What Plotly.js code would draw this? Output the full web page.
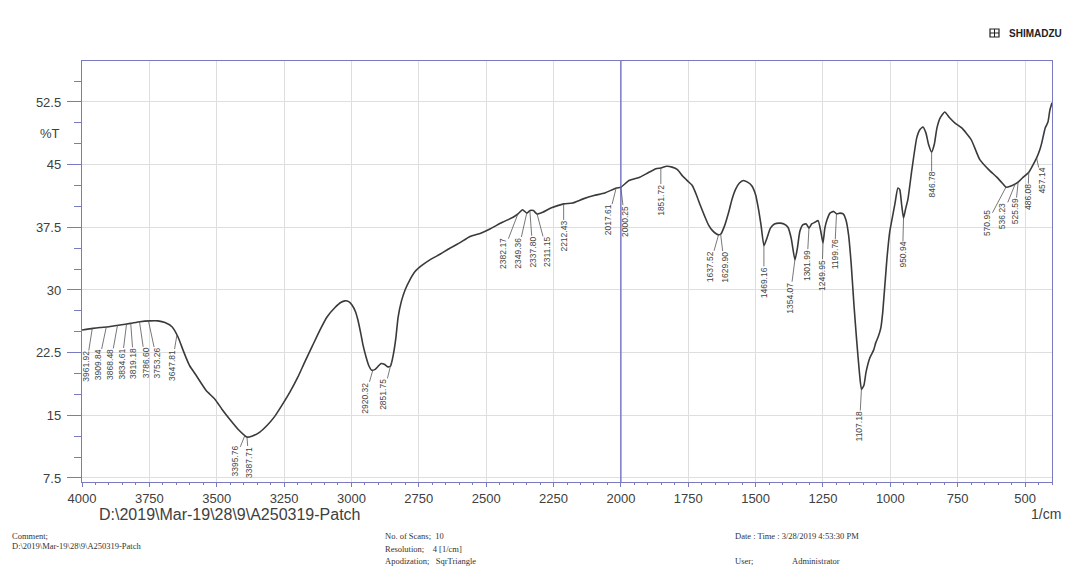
<!DOCTYPE html>
<html>
<head>
<meta charset="utf-8">
<script src="https://cdn.plot.ly/plotly-3.0.1.min.js"></script>
<style>html,body{margin:0;padding:0;background:#fff;}#chart{width:1067px;height:588px;}</style>
</head>
<body>
<div id="chart"></div>
<script>
// ---- Data ----
const wavenumber = [4000,3960,3933,3900,3859,3820,3785,3748,3718,3692,3666,3644,3625,3610,3600,3581,3540,3506,3480,3451,3420,3395,3388,3370,3340,3310,3284,3256,3228,3200,3173,3145,3117,3090,3061,3040,3024,3010,2998,2985,2976,2966,2957,2945,2935,2925,2912,2900,2890,2878,2865,2855,2845,2835,2827,2815,2801,2785,2764,2740,2709,2670,2635,2600,2560,2520,2486,2440,2400,2382,2365,2349,2337,2325,2311,2290,2260,2212,2180,2140,2100,2060,2017,2000,1970,1930,1900,1870,1851,1830,1810,1790,1770,1751,1735,1720,1705,1690,1675,1660,1645,1637,1629,1615,1600,1588,1575,1560,1545,1530,1515,1500,1490,1480,1469,1458,1445,1430,1410,1395,1380,1368,1354,1345,1336,1325,1312,1302,1292,1280,1268,1258,1250,1243,1235,1224,1210,1199,1187,1175,1165,1155,1145,1135,1125,1115,1107,1098,1090,1076,1062,1054,1045,1035,1028,1013,1002,990,983,972,965,958,951,944,935,920,902,890,879,868,858,847,837,827,815,798,780,761,735,700,668,635,605,585,571,555,536,526,510,486,475,457,445,438,425,415,408,400];
const transmittance = [25.2,25.4,25.5,25.6,25.8,26.0,26.2,26.3,26.3,26.1,25.6,24.4,22.8,21.6,20.9,20.0,18.0,16.9,15.7,14.5,13.3,12.55,12.4,12.5,13.0,13.9,14.9,16.3,17.8,19.5,21.4,23.3,25.2,26.8,27.9,28.5,28.7,28.6,28.2,27.4,26.4,24.9,23.4,21.9,20.9,20.4,20.5,20.9,21.2,21.1,20.8,20.9,22.2,24.3,26.7,28.6,30.0,31.1,32.2,32.9,33.6,34.3,35.0,35.6,36.4,36.8,37.3,38.1,38.7,39.1,39.6,39.2,39.5,39.5,39.1,39.3,39.8,40.3,40.4,40.9,41.3,41.6,42.2,42.3,43.1,43.5,44.0,44.5,44.6,44.8,44.7,44.4,43.6,43.0,42.5,41.4,40.1,38.9,37.8,37.1,36.7,36.6,36.7,37.7,39.3,40.8,42.0,42.8,43.1,42.9,42.5,41.4,39.8,37.8,35.3,36.2,37.4,37.9,38.0,37.9,37.5,36.2,33.6,35.0,37.0,37.8,37.9,37.4,37.9,38.1,38.3,37.0,35.6,37.4,38.4,39.2,39.4,39.1,39.2,39.1,38.4,36.6,33.0,28.2,24.0,20.2,18.1,18.6,20.2,21.9,22.8,23.7,24.4,25.5,27.4,33.6,37.0,39.1,40.3,42.2,42.0,40.2,38.6,39.6,40.8,44.4,48.2,49.2,49.5,48.8,47.4,46.5,47.4,49.4,50.6,51.3,50.6,50.0,49.4,48.0,45.6,44.4,43.5,42.8,42.3,42.4,42.7,42.9,43.4,44.1,44.7,45.8,46.8,47.6,49.4,50.1,51.5,52.4];

const peakWavenumbers = [3961.92,3909.84,3868.48,3834.61,3819.18,3786.60,3753.26,3647.81,3395.76,3387.71,2920.32,2851.75,2382.17,2349.36,2337.80,2311.15,2212.43,2017.61,2000.25,1851.72,1637.52,1629.90,1469.16,1354.07,1301.99,1249.95,1199.76,1107.18,950.94,846.78,570.95,536.23,525.59,486.08,457.14];
const peakLabels = peakWavenumbers.map(v => v.toFixed(2));

const xTickValues = [4000,3750,3500,3250,3000,2750,2500,2250,2000,1750,1500,1250,1000,750,500];
const yTickValues = [7.5,15,22.5,30,37.5,45,52.5];

// ---- Layout helpers (label offsets in pixels, style only) ----
const labelOffsets = [
  [-6,38],[-8,38],[-7,39],[-5,40],[3,40],[6,41],[9,42],[-5,30],
  [-10,25],[2,25],
  [-8,28],[-8,32],
  [-15,39],[-9,40],[3,41],[10,38],[0,32],
  [-8,32],[4,34],
  [0,32],
  [-9,32],[4,33],
  [0,37],[-5,38],[-2,37],[-1,32],[-2,41],
  [-2,37],[-1,37],[0,33],
  [-19,36],[-13,32],[-3,29],[-1,25],[5,23]
];

function interpT(w){
  for(let i=0;i<wavenumber.length-1;i++){
    const a=wavenumber[i], b=wavenumber[i+1];
    if((w<=a && w>=b)){
      const t=(a-w)/(a-b);
      return transmittance[i]+t*(transmittance[i+1]-transmittance[i]);
    }
  }
  return transmittance[transmittance.length-1];
}

const L=82, R=15, Tm=61, B=106, W=1067, H=588;
const pw=W-L-R, ph=H-Tm-B;
const px = xp => (xp-L)/pw;
const py = yp => (Tm+ph-yp)/ph;

const annotations = [];
peakWavenumbers.forEach((w,i)=>{
  annotations.push({
    x:w, y:interpT(w), xref:'x', yref:'y',
    text:peakLabels[i], textangle:-90,
    showarrow:true, arrowhead:0, arrowwidth:0.8, arrowcolor:'#555',
    ax:labelOffsets[i][0], ay:labelOffsets[i][1], standoff:0,
    font:{family:'Liberation Sans, Arial', size:8.5, color:'#444'},
    borderpad:0
  });
});

const serif = {family:'Liberation Serif, Times New Roman', size:8.5, color:'#333'};
const footer = [
  ['Comment;',10,536],
  ['D:\\2019\\Mar-19\\28\\9\\A250319-Patch',10,546],
  ['No. of Scans;  10',383,536],
  ['Resolution;    4 [1/cm]',383,549],
  ['Apodization;   SqrTriangle',383,561],
  ['Date : Time : 3/28/2019 4:53:30 PM',733,536],
  ['User;',733,561],
  ['Administrator',790,561]
];
footer.forEach(f=>{
  annotations.push({text:f[0], xref:'paper', yref:'paper', x:px(f[1]), y:py(f[2]),
    xanchor:'left', yanchor:'middle', showarrow:false, font:serif});
});

annotations.push({text:'%T', xref:'paper', yref:'paper', x:px(62), y:py(133), xanchor:'right', yanchor:'middle',
  showarrow:false, font:{family:'Liberation Sans, Arial', size:13, color:'#404040'}});
annotations.push({text:'D:\\2019\\Mar-19\\28\\9\\A250319-Patch', xref:'paper', yref:'paper', x:px(97), y:py(514),
  xanchor:'left', yanchor:'middle', showarrow:false, font:{family:'Liberation Sans, Arial', size:16, color:'#404040'}});
annotations.push({text:'1/cm', xref:'paper', yref:'paper', x:px(1063), y:py(514),
  xanchor:'right', yanchor:'middle', showarrow:false, font:{family:'Liberation Sans, Arial', size:14, color:'#404040'}});
annotations.push({text:'<b>SHIMADZU</b>', xref:'paper', yref:'paper', x:px(1064), y:py(33),
  xanchor:'right', yanchor:'middle', showarrow:false, font:{family:'Liberation Sans, Arial', size:10, color:'#222'}});

const shapes = [
  {type:'line', xref:'x', yref:'paper', x0:2000, x1:2000, y0:0, y1:1, line:{color:'#6a6ac8', width:1.3}},
  {type:'rect', xref:'paper', yref:'paper', x0:px(990), x1:px(999), y0:py(37), y1:py(29), line:{color:'#222', width:1.2}, fillcolor:'rgba(0,0,0,0)'},
  {type:'line', xref:'paper', yref:'paper', x0:px(994.5), x1:px(994.5), y0:py(37), y1:py(29), line:{color:'#222', width:1}},
  {type:'line', xref:'paper', yref:'paper', x0:px(990), x1:px(999), y0:py(33), y1:py(33), line:{color:'#222', width:1}}
];

const trace = {
  x: wavenumber, y: transmittance, type:'scatter', mode:'lines',
  line:{color:'#3a3a3a', width:1.6, shape:'spline', smoothing:0.5},
  hoverinfo:'skip'
};

const tickFont = {family:'Liberation Sans, Arial', size:13, color:'#404040'};
const layout = {
  width:W, height:H,
  margin:{l:L, r:R, t:Tm, b:B, pad:0},
  paper_bgcolor:'#fff', plot_bgcolor:'#fff',
  showlegend:false,
  xaxis:{
    range:[4000,400], tickmode:'array', tickvals:xTickValues, ticktext:xTickValues.map(String),
    ticks:'outside', ticklen:4, tickwidth:1, tickcolor:'#7a7ac0',
    minor:{dtick:50, tick0:0, ticks:'outside', ticklen:2, tickcolor:'#7a7ac0', showgrid:false},
    showgrid:true, gridcolor:'#dedede', gridwidth:1,
    showline:true, linecolor:'#7a7ac0', linewidth:1.2, mirror:true,
    tickfont:tickFont, zeroline:false, fixedrange:true, ticklabelstandoff:0
  },
  yaxis:{
    range:[7.02,57.4], tickmode:'array', tickvals:yTickValues, ticktext:yTickValues.map(String),
    ticks:'outside', ticklen:14, tickwidth:1, tickcolor:'#7a7ac0',
    minor:{dtick:2.5, tick0:0, ticks:'outside', ticklen:7, tickcolor:'#7a7ac0', showgrid:false},
    showgrid:true, gridcolor:'#dedede', gridwidth:1,
    showline:true, linecolor:'#7a7ac0', linewidth:1.2, mirror:true,
    tickfont:tickFont, zeroline:false, fixedrange:true, ticklabelstandoff:3
  },
  annotations: annotations,
  shapes: shapes
};

Plotly.newPlot('chart', [trace], layout, {staticPlot:true, displayModeBar:false});
</script>
</body>
</html>
